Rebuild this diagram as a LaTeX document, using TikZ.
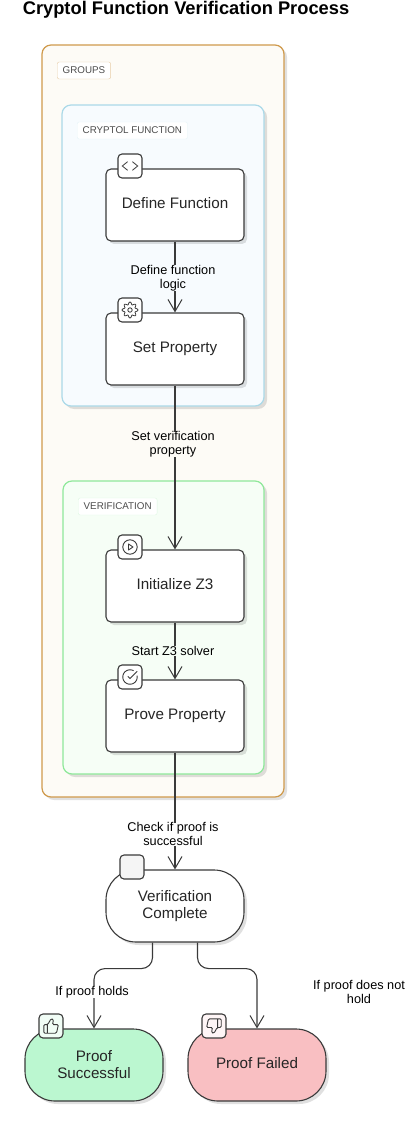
\documentclass[tikz,border=0pt]{standalone}
\usepackage{fontspec}
\setmainfont{Liberation Sans}
\usetikzlibrary{positioning, arrows.meta, shadows}
\definecolor{linegray}{HTML}{3A3A3A}
\definecolor{groupfill}{HTML}{FDFBF6}
\definecolor{groupline}{HTML}{CF9A4C}
\definecolor{cryptolfill}{HTML}{F7FBFE}
\definecolor{cryptolline}{HTML}{ABD9E8}
\definecolor{verifyfill}{HTML}{F6FEF6}
\definecolor{verifyline}{HTML}{8FE89A}
\definecolor{successfill}{HTML}{BBF7D0}
\definecolor{failedfill}{HTML}{F9BFC2}
\tikzset{
  softshadow/.style={drop shadow={shadow xshift=3pt, shadow yshift=-3pt, fill=black, opacity=.12}},
  groupbox/.style={draw=#1, line width=1.2pt, rounded corners=9pt, inner sep=0pt, softshadow},
  grouptag/.style={draw=#1, fill=white, rounded corners=2pt, anchor=west, minimum height=17pt, inner xsep=5.5pt, inner ysep=0pt, text=black!70, font=\fontsize{9.8}{11}\selectfont},
  stepbox/.style={draw=linegray, fill=white, line width=1.1pt, rounded corners=5pt, minimum width=138pt, minimum height=72pt, inner sep=0pt, align=center, softshadow, text=black!85, font=\fontsize{15.2}{17}\selectfont},
  oneline/.style={text height=10.5pt, text depth=3.5pt},
  endbox/.style={stepbox, rounded corners=30pt},
  iconbox/.style={draw=linegray, fill=white, line width=1.1pt, rounded corners=4pt, minimum size=24pt, inner sep=0pt},
  edgelabel/.style={fill=#1, text=black, inner xsep=1pt, inner ysep=0pt, xshift=-2pt, align=center, font=\fontsize{12.7}{14}\selectfont},
  edgelabel/.default=white,
  pics/codeicon/.style={code={
    \draw[line width=.8pt] (-2.4,-4.3)--(-7.7,0)--(-2.4,4.3) (2.4,-4.3)--(7.7,0)--(2.4,4.3);}},
  pics/gearicon/.style={code={
    \draw[line width=.8pt, scale=.72, samples=97, smooth, domain=0:360] plot ({(9.3+1.7*cos(8*\x))*cos(\x)},{(9.3+1.7*cos(8*\x))*sin(\x)});
    \draw[line width=.8pt] (0,0) circle (2.2pt);}},
  pics/playicon/.style={code={
    \draw[line width=.9pt] (0,0) circle (7.2pt);
    \draw[line width=.9pt, line join=round] (-1.5,-3)--(3,0)--(-1.5,3)--cycle;}},
  pics/checkicon/.style={code={
    \draw[line width=.9pt, scale=.72, shift={(-12,-12)}, samples=40, smooth, domain=-11.5:300] plot ({12+10*cos(\x)},{12+10*sin(\x)});
    \draw[line width=.9pt, scale=.72, shift={(-12,-12)}] (9,11)--(12,14)--(22,4);}},
  pics/thumbicon/.style={code={
    \draw[line width=.9pt, scale=.72, shift={(-12,-12)}, rounded corners=1.2pt] (15,5.9)--(14,10)--(22.3,10)--(19.6,22)--(2,22)--(2,10)--(7.5,10)--(12,2)--(15.3,2.5)--cycle (7,10)--(7,22);}},
}
\begin{document}
\begin{tikzpicture}[x=1pt, y=-1pt, >={Straight Barb[length=12pt, width=14pt, line width=1pt]}]
  \useasboundingbox (0,0) rectangle (418,1131);
  \node (title) at (186,10) {\fontsize{18.3}{20}\selectfont\bfseries Cryptol Function Verification Process};

  % groups
  \node[groupbox=groupline, fill=groupfill, minimum width=242pt, minimum height=752pt] (groups) at (163,421) {};
  \node[grouptag=groupline!50] (groupstag) at (57,70.5) {GROUPS};
  \node[groupbox=cryptolline, fill=cryptolfill, minimum width=202pt, minimum height=301pt] (cryptol) at (163,255.5) {};
  \node[grouptag=cryptolline!30] (cryptoltag) at (77,130.5) {CRYPTOL FUNCTION};
  \node[groupbox=verifyline, fill=verifyfill, minimum width=201pt, minimum height=293pt] (verify) at (163.5,627.5) {};
  \node[grouptag=verifyline!30] (verifytag) at (78,506.5) {VERIFICATION};

  % steps
  \node[stepbox, oneline] (define) at (175,205) {Define Function};
  \node[stepbox, oneline] (setprop) at (175,349) {Set Property};
  \node[stepbox, oneline] (initz) at (175,586) {Initialize Z3};
  \node[stepbox, oneline] (prove) at (175,716) {Prove Property};
  \node[endbox] (complete) at (175,906) {Verification\\Complete};
  \node[endbox, fill=successfill] (success) at (94,1065) {Proof\\Successful};
  \node[endbox, oneline, fill=failedfill] (failed) at (257,1065) {Proof Failed};

  % connectors
  \draw[->, linegray, line width=1.1pt] (define) -- node[edgelabel=cryptolfill, yshift=-1pt]{Define function\\logic} (setprop);
  \draw[->, linegray, line width=1.1pt] (setprop) -- node[edgelabel=groupfill, pos=.36]{Set verification\\property} (initz);
  \draw[->, linegray, line width=1.1pt] (initz) -- node[edgelabel=verifyfill]{Start Z3 solver} (prove);
  \draw[->, linegray, line width=1.1pt] (prove) -- node[edgelabel, pos=.7]{Check if proof is\\successful} (complete);
  \draw[->, linegray, line width=1.1pt, rounded corners=11pt] ([xshift=-22.5pt]complete.south) -- ++(0,26) -| (success.north);
  \draw[->, linegray, line width=1.1pt, rounded corners=11pt] ([xshift=22.5pt]complete.south) -- ++(0,26) -| (failed.north);
  \node[edgelabel] (holdslabel) at (94,992) {If proof holds};
  \node[edgelabel] (failslabel) at (361,992) {If proof does not\\hold};

  % icons
  \node[iconbox] (defineicon) at (130,166) {};
  \node[iconbox] (propicon) at (130,310) {};
  \node[iconbox] (initicon) at (130,547) {};
  \node[iconbox] (proveicon) at (130,677) {};
  \node[iconbox, fill=black!4] (completeicon) at (132,867) {};
  \node[iconbox, fill=successfill!20] (successicon) at (51,1026) {};
  \node[iconbox, fill=failedfill!15] (failedicon) at (214,1026) {};
  \pic[linegray] at (defineicon.center) {codeicon};
  \pic[linegray] at (propicon.center) {gearicon};
  \pic[linegray] at (initicon.center) {playicon};
  \pic[linegray] at (proveicon.center) {checkicon};
  \pic[linegray] at (successicon.center) {thumbicon};
  \pic[linegray, rotate=180] at (failedicon.center) {thumbicon};
\end{tikzpicture}
\end{document}
